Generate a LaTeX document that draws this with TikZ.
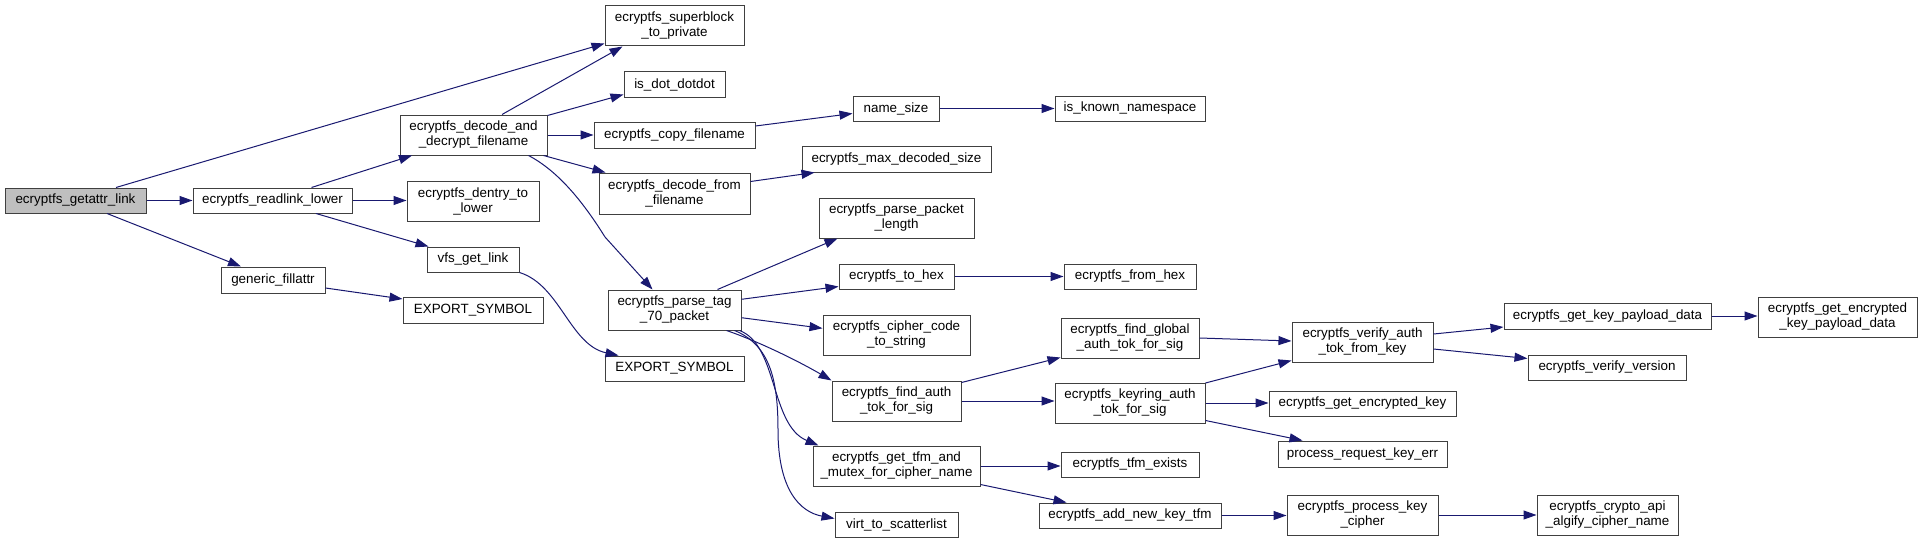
\documentclass[tikz,border=0pt]{standalone}
\usepackage{fontspec}
\setmainfont{Liberation Sans}
\usetikzlibrary{arrows.meta}
\definecolor{edgec}{RGB}{25,25,112}
\definecolor{boxc}{RGB}{64,64,64}
\definecolor{rootfill}{RGB}{191,191,191}
\begin{document}
\begin{tikzpicture}[x=1pt,y=-1pt,
  box/.style={draw=boxc,line width=1pt,fill=white,inner sep=0pt,align=center,font=\fontsize{13.4}{15}\selectfont},
  sz/.style 2 args={minimum width=#1pt,minimum height=#2pt},
  e/.style={draw=edgec,line width=1pt,-{Triangle[length=13pt,width=9pt]}}]
\useasboundingbox (0,0) rectangle (1923,543);
% nodes
\node[box,sz={141}{25},fill=rootfill] (n1) at (75.5,200.5) {ecryptfs\_getattr\_link};
\node[box,sz={159}{25}] (n2) at (272.5,200.5) {ecryptfs\_readlink\_lower};
\node[box,sz={147}{40}] (n3) at (473.5,135) {ecryptfs\_decode\_and\\\_decrypt\_filename};
\node[box,sz={132}{40}] (n4) at (473,201) {ecryptfs\_dentry\_to\\\_lower};
\node[box,sz={92}{25}] (n5) at (473,259.5) {vfs\_get\_link};
\node[box,sz={104}{26}] (n6) at (273,280) {generic\_fillattr};
\node[box,sz={139}{40}] (n7) at (674.5,26) {ecryptfs\_superblock\\\_to\_private};
\node[box,sz={101}{25}] (n8) at (674.5,84.5) {is\_dot\_dotdot};
\node[box,sz={161}{26}] (n9) at (674.5,135) {ecryptfs\_copy\_filename};
\node[box,sz={151}{41}] (n10) at (674.5,193.5) {ecryptfs\_decode\_from\\\_filename};
\node[box,sz={140}{26}] (n11) at (473,310) {EXPORT\_SYMBOL};
\node[box,sz={139}{25}] (n12) at (674.5,368.5) {EXPORT\_SYMBOL};
\node[box,sz={133}{40}] (n13) at (674.5,310) {ecryptfs\_parse\_tag\\\_70\_packet};
\node[box,sz={86}{25}] (n14) at (896,108.5) {name\_size};
\node[box,sz={189}{26}] (n15) at (896.5,159) {ecryptfs\_max\_decoded\_size};
\node[box,sz={155}{40}] (n16) at (896.5,218) {ecryptfs\_parse\_packet\\\_length};
\node[box,sz={115}{25}] (n17) at (896.5,276.5) {ecryptfs\_to\_hex};
\node[box,sz={147}{40}] (n18) at (896.5,335) {ecryptfs\_cipher\_code\\\_to\_string};
\node[box,sz={129}{40}] (n19) at (896.5,401) {ecryptfs\_find\_auth\\\_tok\_for\_sig};
\node[box,sz={167}{40}] (n20) at (896.5,466) {ecryptfs\_get\_tfm\_and\\\_mutex\_for\_cipher\_name};
\node[box,sz={123}{25}] (n21) at (896.5,524.5) {virt\_to\_scatterlist};
\node[box,sz={150}{25}] (n22) at (1130,108.5) {is\_known\_namespace};
\node[box,sz={132}{25}] (n23) at (1130,276.5) {ecryptfs\_from\_hex};
\node[box,sz={138}{40}] (n24) at (1130,338) {ecryptfs\_find\_global\\\_auth\_tok\_for\_sig};
\node[box,sz={150}{40}] (n25) at (1130,403) {ecryptfs\_keyring\_auth\\\_tok\_for\_sig};
\node[box,sz={138}{25}] (n26) at (1130,464.5) {ecryptfs\_tfm\_exists};
\node[box,sz={182}{25}] (n27) at (1130,515.5) {ecryptfs\_add\_new\_key\_tfm};
\node[box,sz={141}{40}] (n28) at (1362.5,342) {ecryptfs\_verify\_auth\\\_tok\_from\_key};
\node[box,sz={187}{25}] (n29) at (1362.5,403.5) {ecryptfs\_get\_encrypted\_key};
\node[box,sz={169}{26}] (n30) at (1362.5,454) {process\_request\_key\_err};
\node[box,sz={151}{40}] (n31) at (1362.5,515) {ecryptfs\_process\_key\\\_cipher};
\node[box,sz={207}{26}] (n32) at (1607.5,316) {ecryptfs\_get\_key\_payload\_data};
\node[box,sz={158}{25}] (n33) at (1607,367.5) {ecryptfs\_verify\_version};
\node[box,sz={141}{40}] (n34) at (1607.5,515) {ecryptfs\_crypto\_api\\\_algify\_cipher\_name};
\node[box,sz={159}{40}] (n35) at (1837.5,317) {ecryptfs\_get\_encrypted\\\_key\_payload\_data};
% edges
\draw[e] ([xshift=40.5pt]n1.north) -- ([yshift=3pt]n7.south west);
\draw[e] ([xshift=28.5pt]n3.north) -- ([xshift=-52pt]n7.south);
\draw[e] (n1.east) -- (n2.west);
\draw[e] ([xshift=31.5pt]n1.south) -- ([xshift=-32pt]n6.north);
\draw[e] ([xshift=39pt]n2.north) -- ([xshift=-61.5pt]n3.south);
\draw[e] (n2.east) -- (n2.east -| n4.west);
\draw[e] ([xshift=43.5pt]n2.south) -- ([xshift=2pt]n5.north west);
\draw[e] ([yshift=-8pt]n6.east) -- ([yshift=11pt]n11.west);
\draw[e] (n5.south east) .. controls (560,285) and (570,345) .. ([xshift=-56pt]n12.north);
\draw[e] ([yshift=-1pt]n3.north east) -- ([yshift=3pt]n8.south west);
\draw[e] (n3.east) -- (n9.west);
\draw[e] ([xshift=-4pt]n3.south east) -- ([xshift=7pt]n10.north west);
\draw[e] ([xshift=55pt]n3.south) .. controls (560,172) and (585,205) .. (605,237) -- ([xshift=-22pt]n13.north);
\draw[e] ([yshift=9pt]n9.east) -- ([yshift=-5pt]n14.west);
\draw[e] (n14.east) -- (n14.east -| n22.west);
\draw[e] ([yshift=12pt]n10.east) -- ([xshift=13pt]n15.south west);
\draw[e] ([xshift=43pt]n13.north) -- ([xshift=19pt]n16.south west);
\draw[e] ([yshift=10.7pt]n13.east) -- ([yshift=-10pt]n17.west);
\draw[e] (n17.east) -- (n23.west);
\draw[e] ([yshift=-7.7pt]n13.east) -- ([yshift=6.7pt]n18.west);
\draw[e] ([xshift=52pt]n13.south) .. controls (760,342) and (800,362) .. (n19.north west);
\draw[e] ([xshift=-2pt]n13.south east) .. controls (778,345) and (770,425) .. ([xshift=6pt]n20.north west);
\draw[e] ([xshift=60pt]n13.south) .. controls (770,345) and (778,380) .. (778,430) .. controls (778,490) and (800,512) .. ([yshift=6pt]n21.west);
\draw[e] ([yshift=-2pt]n19.north east) -- ([yshift=1pt]n24.south west);
\draw[e] (n19.east) -- (n19.east -| n25.west);
\draw[e] (n24.east) -- ([yshift=1pt]n28.west);
\draw[e] ([yshift=-0.5pt]n25.north east) -- ([yshift=2pt]n28.south west);
\draw[e] (n25.east) -- (n25.east -| n29.west);
\draw[e] ([yshift=3pt]n25.south east) -- ([xshift=25pt]n30.north west);
\draw[e] ([yshift=8pt]n28.east) -- ([yshift=-11pt]n32.west);
\draw[e] ([yshift=-7pt]n28.east) -- ([yshift=9pt]n33.west);
\draw[e] (n32.east) -- (n32.east -| n35.west);
\draw[e] (n20.east) -- (n20.east -| n26.west);
\draw[e] ([yshift=2pt]n20.south east) -- ([xshift=28pt]n27.north west);
\draw[e] (n27.east) -- (n27.east -| n31.west);
\draw[e] (n31.east) -- (n34.west);
\end{tikzpicture}
\end{document}
